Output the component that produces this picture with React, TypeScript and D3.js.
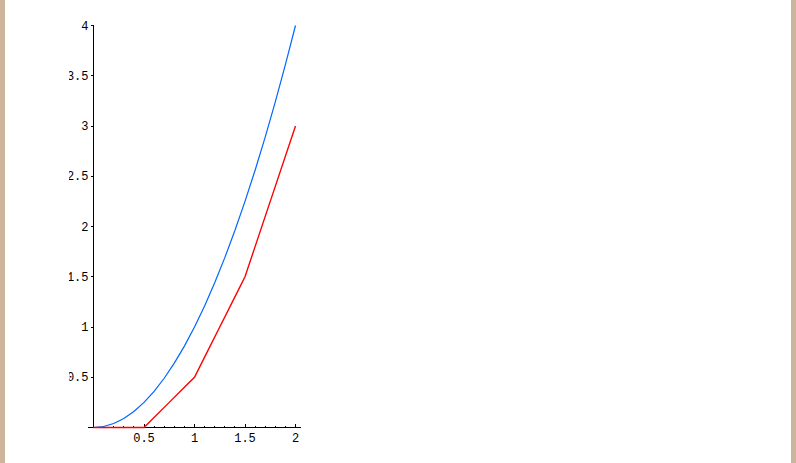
import * as d3 from "d3";

// values
const blueX = [0, 0.1, 0.2, 0.3, 0.4, 0.5, 0.6, 0.7, 0.8, 0.9, 1, 1.1, 1.2, 1.3, 1.4, 1.5, 1.6, 1.7, 1.8, 1.9, 2];
const blueY = [0, 0.01, 0.04, 0.09, 0.16, 0.25, 0.36, 0.49, 0.64, 0.81, 1, 1.21, 1.44, 1.69, 1.96, 2.25, 2.56, 2.89, 3.24, 3.61, 4];

const redX = [0, 0.5, 0.75, 0.9, 1, 1.1, 1.25, 1.4, 1.5, 1.75, 2];
const redY = [0, 0, 0.25, 0.4, 0.5, 0.7, 1.0, 1.3, 1.5, 2.25, 3];

const xMajor = [0.5, 1, 1.5, 2];
const xMinor = [0.1, 0.2, 0.3, 0.4, 0.6, 0.7, 0.8, 0.9, 1.1, 1.2, 1.3, 1.4, 1.6, 1.7, 1.8, 1.9];
const yMajor = [0.5, 1, 1.5, 2, 2.5, 3, 3.5, 4];

const W = 796;
const H = 463;
const BORDER = "#cdb59b";
const FONT = "'Liberation Mono', 'DejaVu Sans Mono', monospace";

const x = d3.scaleLinear().domain([0, 2]).range([93.5, 295.5]);
const y = d3.scaleLinear().domain([0, 4]).range([427.5, 25.5]);

const line = d3
  .line<[number, number]>()
  .x((d) => x(d[0]))
  .y((d) => y(d[1]));

const zip = (xs: number[], ys: number[]) => xs.map((v, i) => [v, ys[i]] as [number, number]);

const App = () => {
  return (
    <svg
      width={W}
      height={H}
      style={{ position: "absolute", left: 0, top: 0, background: "#fff" }}
    >
      <defs>
        <clipPath id="ylab">
          <rect x={69} y={0} width={30} height={H} />
        </clipPath>
      </defs>
      <rect x={0} y={0} width={5} height={H} fill={BORDER} />
      <rect x={791} y={0} width={5} height={H} fill={BORDER} />

      {/* axes */}
      <g shapeRendering="crispEdges" stroke="#000" strokeWidth={1}>
        <line x1={x(0)} x2={x(0)} y1={y(4)} y2={y(0)} />
        <line x1={88} x2={301} y1={y(0)} y2={y(0)} />
        {xMajor.map((v) => (
          <line key={"xM" + v} x1={x(v)} x2={x(v)} y1={y(0)} y2={y(0) - 4} />
        ))}
        {xMinor.map((v) => (
          <line key={"xm" + v} x1={x(v)} x2={x(v)} y1={y(0)} y2={y(0) - 2} />
        ))}
        {yMajor.map((v) => (
          <line key={"yM" + v} x1={x(0)} x2={x(0) - 3} y1={y(v)} y2={y(v)} />
        ))}
      </g>

      {/* curves, drawn over the axes */}
      <path d={line(zip(blueX, blueY)) ?? ""} fill="none" stroke="#0066ff" strokeWidth={1.2} />
      <path d={line(zip(redX, redY)) ?? ""} fill="none" stroke="#ff0000" strokeWidth={1.4} />

      {/* labels */}
      <g fontFamily={FONT} fontSize={12} fill="#000">
        {xMajor.map((v) => (
          <text key={"xl" + v} x={x(v)} y={442} textAnchor="middle">
            {String(v)}
          </text>
        ))}
        <g clipPath="url(#ylab)">
          {yMajor.map((v) => (
            <text key={"yl" + v} x={88.5} y={y(v) + 4} textAnchor="end">
              {String(v)}
            </text>
          ))}
        </g>
      </g>
    </svg>
  );
};

export default App;
